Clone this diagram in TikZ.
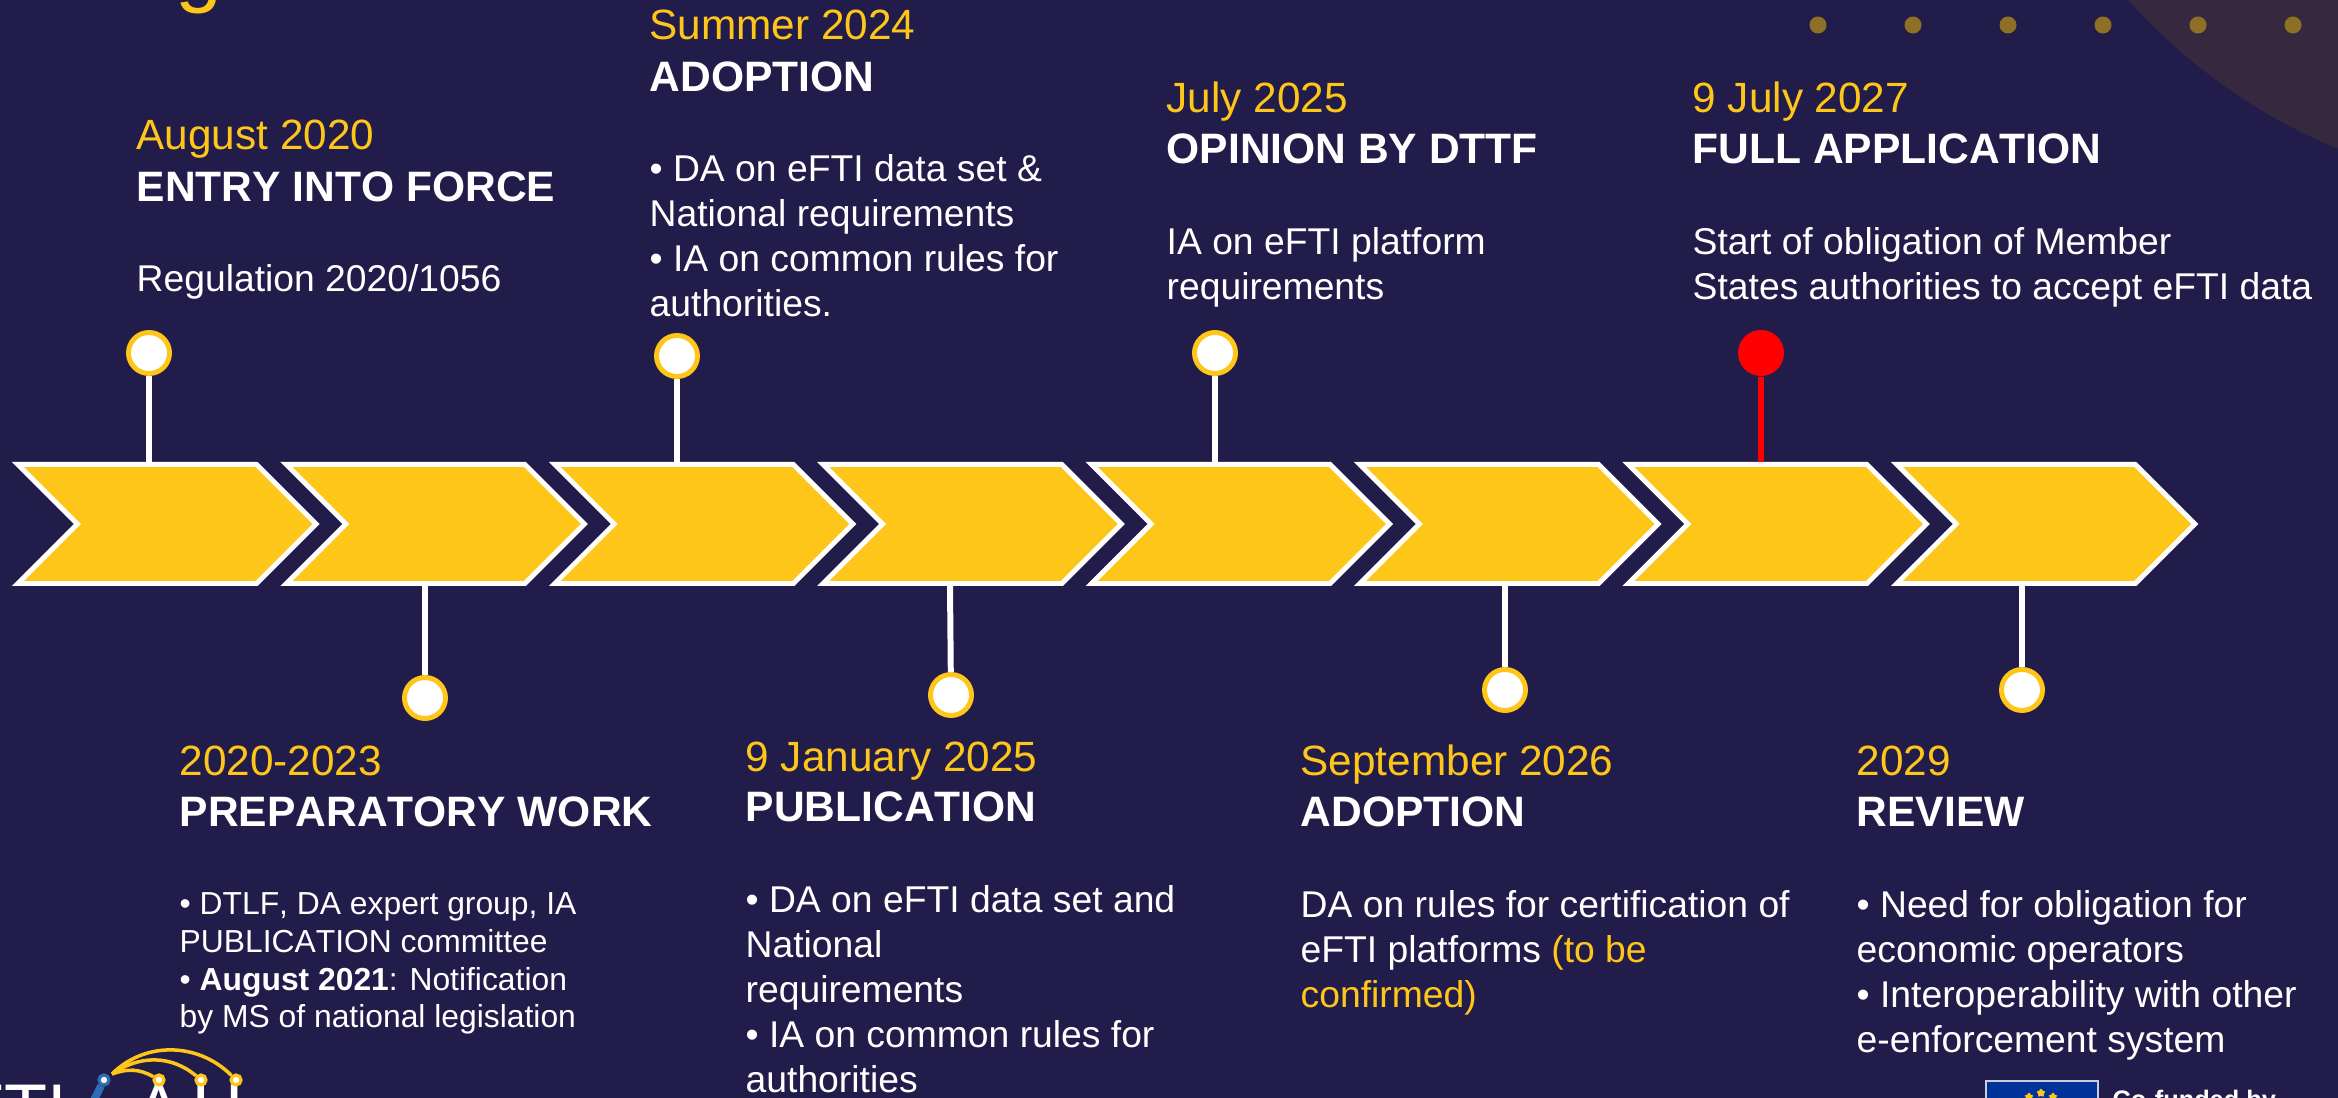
\documentclass[tikz,border=0pt]{standalone}
\usepackage{fontspec}
\setmainfont[Ligatures=NoCommon, Kerning=Off]{Liberation Sans}
\usetikzlibrary{shapes.symbols, shapes.geometric}

\definecolor{bgnavy}{HTML}{221C4A}
\definecolor{gold}{HTML}{FFC61A}
\definecolor{dimgold}{HTML}{8D7026}
\definecolor{arcfill}{HTML}{35283F}
\definecolor{logoblue}{HTML}{2E6DB4}
\definecolor{flagblue}{HTML}{003399}
\definecolor{flagedge}{HTML}{C8CEDF}

\tikzset{
  chev/.style={signal, signal to=east, signal from=west, signal pointer angle=90,
    draw=white, line width=1.4pt, fill=gold, minimum width=2.98cm, minimum height=1.19cm, inner sep=0pt},
  markdot/.style={circle, draw=gold, fill=white, line width=1.4pt, minimum size=0.41cm, inner sep=0pt},
  reddot/.style={circle, fill=red, minimum size=0.46cm, inner sep=0pt},
  stem/.style={white, line width=1.7pt},
  redstem/.style={red, line width=1.7pt},
  plain/.style={anchor=base west, inner sep=0pt},
  datetext/.style={plain, text=gold, font=\fontsize{12.03}{14}\selectfont},
  headtext/.style={plain, text=white, font=\fontsize{12.1}{14}\selectfont\bfseries},
  bodytext/.style={plain, text=white, align=left, font=\fontsize{10.6}{12.8}\selectfont},
  bodysmall/.style={plain, text=white, align=left, font=\fontsize{9.05}{10.8}\selectfont},
  logodot/.style={circle, draw=gold, fill=white, line width=0.9pt, minimum size=0.1cm, inner sep=0pt},
  logoarc/.style={gold, line width=1pt},
  logotext/.style={plain, text=white, font=\fontsize{20}{24}\selectfont},
  flagstar/.style={star, star points=5, fill=gold, minimum size=0.09cm, inner sep=0pt}
}

\begin{document}
\begin{tikzpicture}[x=0.01cm, y=-0.01cm]

   \useasboundingbox (0,0) rectangle (2338,1098);
   \clip (0,0) rectangle (2338,1098);
   \fill[bgnavy] (0,0) rectangle (2338,1098);

   % corner shape and dots
   \fill[arcfill] (2555,-380) circle (5.71cm);
   \foreach \x in {1818,1913,2008,2103,2198,2293}
     \fill[dimgold] (\x,25) circle (0.085cm);

   \node[plain, text=gold, font=\fontsize{24}{28}\selectfont] (title) at (175,-3) {g};

   % arrows
   \foreach \i in {1,...,8}
     \node[chev] (c\i) at ({167+268.4*(\i-1)},524) {};

   % markers
   \node[markdot] (p1) at (149,353) {};
   \node[markdot] (p2) at (425,698) {};
   \node[markdot] (p3) at (677,356) {};
   \node[markdot] (p4) at (951,695) {};
   \node[markdot] (p5) at (1215,353) {};
   \node[markdot] (p6) at (1505,690) {};
   \node[reddot]  (p7) at (1761,353) {};
   \node[markdot] (p8) at (2022,690) {};
   \coordinate (s4) at (950,586);

   \draw[stem] (p1) -- (p1 |- c1.north);
   \draw[stem] (p2) -- (p2 |- c2.south);
   \draw[stem] (p3) -- (p3 |- c3.north);
   \draw[stem] (p4) -- (s4);
   \draw[stem] (p5) -- (p5 |- c5.north);
   \draw[stem] (p6) -- (p6 |- c6.south);
   \draw[redstem] (p7) -- (p7 |- c7.north);
   \draw[stem] (p8) -- (p8 |- c8.south);

   % upper texts
   \node[datetext] (d1) at (136,150) {August 2020};
   \node[headtext] (h1) at (136,202) {ENTRY INTO FORCE};
   \node[bodytext] (b1) at (136,292) {Regulation 2020/1056};

   \node[datetext] (d3) at (649,40) {Summer 2024};
   \node[headtext] (h3) at (649,92) {ADOPTION};
   \node[bodytext] (b3) at (649,317) {• DA on eFTI data set \&\\National requirements\\• IA on common rules for\\authorities.};

   \node[datetext] (d5) at (1166,113) {July 2025};
   \node[headtext] (h5) at (1166,164) {OPINION BY DTTF};
   \node[bodytext] (b5) at (1166,300) {IA on eFTI platform\\requirements};

   \node[datetext] (d7) at (1692,113) {9 July 2027};
   \node[headtext] (h7) at (1692,164) {FULL APPLICATION};
   \node[bodytext] (b7) at (1692,300) {Start of obligation of Member\\States authorities to accept eFTI data};

   % lower texts
   \node[datetext] (d2) at (179,776) {2020-2023};
   \node[headtext] (h2) at (179,827) {PREPARATORY WORK};
   \node[bodysmall] (b2) at (179,1028) {• DTLF, DA expert group, IA\\PUBLICATION committee\\• \textbf{August 2021}: Notification\\by MS of national legislation};

   \node[datetext] (d4) at (745,772) {9 January 2025};
   \node[headtext] (h4) at (745,822) {PUBLICATION};
   \node[bodytext] (b4) at (745,1093) {• DA on eFTI data set and\\National\\requirements\\• IA on common rules for\\authorities};

   \node[datetext] (d6) at (1300,776) {September 2026};
   \node[headtext] (h6) at (1300,827) {ADOPTION};
   \node[bodytext] (b6) at (1300,1008) {DA on rules for certification of\\eFTI platforms \textcolor{gold}{(to be}\\\textcolor{gold}{confirmed)}};

   \node[datetext] (d8) at (1856,776) {2029};
   \node[headtext] (h8) at (1856,827) {REVIEW};
   \node[bodytext] (b8) at (1856,1053) {• Need for obligation for\\economic operators\\• Interoperability with other\\e-enforcement system};

   % logo bottom left
   \node[logotext, anchor=base east] (l1) at (68,1134) {FTI};
   \node[logotext, anchor=base] (l2) at (159,1134) {A};
   \node[logotext, anchor=base] (l3) at (218,1134) {U};
   \node[circle, draw=logoblue, fill=white, line width=0.9pt, minimum size=0.1cm, inner sep=0pt] (n0) at (104,1080) {};
   \node[logodot] (n1) at (159,1080) {};
   \node[logodot] (n2) at (201,1080) {};
   \node[logodot] (n3) at (236,1080) {};
   \coordinate (n4) at (90,1108);
   \coordinate (n5) at (112,1074);
   \draw[logoblue, line width=2.2pt] (n0) -- (n4);
   \draw[logoarc] (n5) to[out=20, in=150] (n1);
   \draw[logoarc] (n5) to[out=35, in=140] (n2);
   \draw[logoarc] (n5) to[out=45, in=135] (n3);

   % flag bottom right
   \node[draw=flagedge, fill=flagblue, line width=0.6pt, anchor=north west, minimum width=1.12cm, minimum height=0.8cm, inner sep=0pt] (flag) at (1985,1080) {};
   \node[flagstar] (st1) at (2041,1093) {};
   \node[flagstar] (st2) at (2029,1097) {};
   \node[flagstar] (st3) at (2053,1097) {};
   \node[plain, text=white, font=\fontsize{7.2}{9}\selectfont\bfseries] (cofund) at (2112,1109) {Co-funded by};

\end{tikzpicture}
\end{document}
